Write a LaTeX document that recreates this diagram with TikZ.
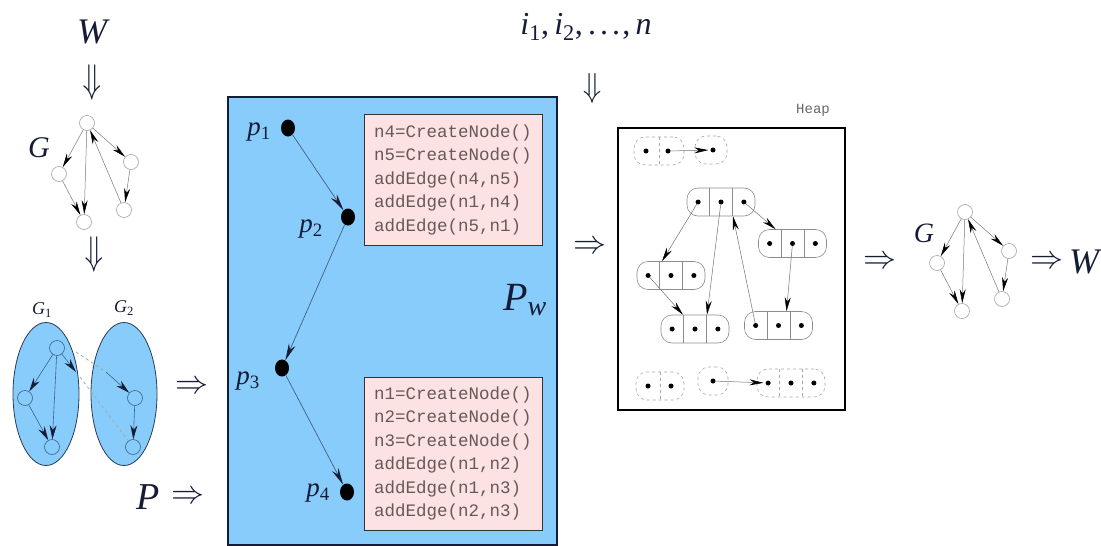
\documentclass[tikz,border=0pt]{standalone}
\usepackage{fontspec}
\usepackage{graphicx}
\setmainfont{Liberation Serif}
\setmonofont{Liberation Mono}
\usetikzlibrary{arrows.meta,shapes.geometric,calc}

\definecolor{boxblue}{RGB}{135,204,250}
\definecolor{codepink}{RGB}{252,226,226}
\definecolor{codetext}{RGB}{105,88,88}
\definecolor{ink}{RGB}{22,28,55}
\definecolor{gnode}{RGB}{165,165,165}
\definecolor{gline}{RGB}{120,120,120}
\definecolor{bvline}{RGB}{60,100,140}
\definecolor{ellline}{RGB}{40,60,90}
\definecolor{pline}{RGB}{70,95,130}

\newcommand{\codefont}{\fontsize{17.5}{23.5}\selectfont\ttfamily}
\newcommand{\rtarrow}{\scalebox{3.3}{$\Rightarrow$}}
\newcommand{\dnarrow}[1]{\rotatebox{-90}{\scalebox{#1}[3.0]{$\Rightarrow$}}}
\newcommand{\fsz}[1]{\fontsize{#1}{#1}\selectfont}

\newcommand{\heaprec}[3]{%
  \node[hrec] (#1) at (#2,#3) {};
  \draw[hdiv] ($(#1.north west)!1/3!(#1.north east)$) -- ($(#1.south west)!1/3!(#1.south east)$);
  \draw[hdiv] ($(#1.north west)!2/3!(#1.north east)$) -- ($(#1.south west)!2/3!(#1.south east)$);
  \node[hdot] (#1a) at ($(#1.west)!1/6!(#1.east)$) {};
  \node[hdot] (#1b) at (#1.center) {};
  \node[hdot] (#1c) at ($(#1.west)!5/6!(#1.east)$) {};
}

\newcommand{\smallgraph}[3]{%
  \node[gv] (#1t) at (87+#2,123+#3) {};
  \node[gv] (#1l) at (59+#2,174+#3) {};
  \node[gv] (#1r) at (131+#2,162+#3) {};
  \node[gv] (#1bl) at (84+#2,222+#3) {};
  \node[gv] (#1br) at (124+#2,210+#3) {};
  \draw[gedge] (#1t) -- (#1l);
  \draw[gedge] (#1t) -- (#1bl);
  \draw[gedge] (#1l) -- (#1bl);
  \draw[gedge] (#1t) -- (#1r);
  \draw[gedge] (#1r) -- (#1br);
  \draw[gedge] (#1br) -- (#1t);
}

\begin{document}
\begin{tikzpicture}[x=1pt,y=-1pt,
  gv/.style={circle,draw=gnode,fill=white,minimum size=15pt,inner sep=0pt,line width=0.6pt},
  gedge/.style={draw=gline,line width=0.5pt,-{Stealth[color=black,length=14pt,width=6pt]}},
  bv/.style={circle,draw=bvline,fill=boxblue,minimum size=15pt,inner sep=0pt,line width=0.6pt},
  bedge/.style={draw=bvline,line width=0.6pt,-{Stealth[color=ink,length=14pt,width=7pt]}},
  bdash/.style={draw=black!35,line width=0.7pt,dashed},
  lbl/.style={text=ink,inner sep=0pt},
  pdot/.style={ellipse,fill=black,minimum width=14pt,minimum height=17pt,inner sep=0pt},
  pedge/.style={draw=pline,line width=0.7pt,-{Stealth[color=ink,length=17pt,width=7pt]}},
  codebox/.style={draw=black!80,line width=1pt,fill=codepink,text=codetext,text width=158pt,align=left,inner sep=0pt,font=\codefont},
  hrec/.style={draw=black!45,rounded corners=11pt,minimum width=68pt,minimum height=28pt,inner sep=0pt,line width=0.6pt},
  hdrec/.style={hrec,dashed,draw=black!35},
  hdiv/.style={draw=black!45,line width=0.6pt},
  hddiv/.style={draw=black!35,line width=0.6pt,dashed},
  hdot/.style={circle,fill=black,minimum size=5pt,inner sep=0pt},
  hedge/.style={draw=black!55,line width=0.5pt,-{Stealth[color=black,length=14pt,width=6pt]}},
  sym/.style={inner sep=0pt,text=ink}
]
\useasboundingbox[fill=white] (0,0) rectangle (1101,546);

% ---------- left column ----------
\node[lbl,font=\fsz{36}\itshape] (W1) at (92,32) {W};
\node[sym] (D1) at (90,82) {\dnarrow{4.0}};
\node[lbl,font=\fsz{30}\itshape] (GL) at (39,148) {G};
\smallgraph{L}{0}{0}
\node[sym] (D2) at (92,254) {\dnarrow{4.0}};

\node[lbl,font=\fsz{18}] (G1L) at (42,310) {\textit{G}\textsubscript{1}};
\node[lbl,font=\fsz{18}] (G2L) at (124,308) {\textit{G}\textsubscript{2}};
\node[ellipse,draw=ellline,fill=boxblue,minimum width=66pt,minimum height=143pt,inner sep=0pt,line width=0.8pt] (E1) at (46,394) {};
\node[ellipse,draw=ellline,fill=boxblue,minimum width=66pt,minimum height=143pt,inner sep=0pt,line width=0.8pt] (E2) at (124,394) {};
\node[bv] (g1t) at (57,348) {};
\node[bv] (g1l) at (25,398) {};
\node[bv] (g1b) at (52,447) {};
\node[bv] (g2t) at (135,398) {};
\node[bv] (g2b) at (133,447) {};
\draw[bedge] (g1t) -- (g1l);
\draw[bedge] (g1t) -- (g1b);
\draw[bedge] (g1l) -- (g1b);
\draw[bedge] (g2t) -- (g2b);
\coordinate (c1) at (76,372);
\draw[bedge] (g1t) -- (c1);
\coordinate (d1) at (76,352);
\coordinate (d2) at (106,372);
\draw[bdash] (d1) -- (d2);
\draw[bedge] (d2) -- (g2t);
\coordinate (d3) at (80,377);
\draw[bdash] (d3) -- (g2b);

\node[sym] (A1) at (192,387) {\rtarrow};
\node[lbl,font=\fsz{38}\itshape] (PL) at (148,497) {P};
\node[sym] (A2) at (188,497) {\rtarrow};

% ---------- program box ----------
\node[draw=ink,line width=1.2pt,fill=boxblue,minimum width=329pt,minimum height=448pt,inner sep=0pt] (PW) at (392.5,321) {};
\node[codebox,minimum width=178pt,minimum height=131pt] (C1) at (453,179.5) {n4=CreateNode()\\n5=CreateNode()\\addEdge(n4,n5)\\addEdge(n1,n4)\\addEdge(n5,n1)};
\node[codebox,minimum width=178pt,minimum height=153pt] (C2) at (453,453.5) {n1=CreateNode()\\n2=CreateNode()\\n3=CreateNode()\\addEdge(n1,n2)\\addEdge(n1,n3)\\addEdge(n2,n3)};

\node[pdot] (p1) at (288,128) {};
\node[pdot] (p2) at (348,217) {};
\node[pdot] (p3) at (282,368) {};
\node[pdot] (p4) at (347,492) {};
\draw[pedge] (p1) -- (p2);
\draw[pedge] (p2) -- (p3);
\draw[pedge] (p3) -- (p4);
\node[lbl,font=\fsz{27}] (p1l) at (259,132) {\textit{p}\textsubscript{1}};
\node[lbl,font=\fsz{27}] (p2l) at (311,229) {\textit{p}\textsubscript{2}};
\node[lbl,font=\fsz{27}] (p3l) at (248,381) {\textit{p}\textsubscript{3}};
\node[lbl,font=\fsz{27}] (p4l) at (318,493) {\textit{p}\textsubscript{4}};
\node[lbl,font=\fsz{40}] (PwL) at (525,300) {\textit{P}\textsubscript{\textit{w}}};

% ---------- inputs ----------
\node[lbl,font=\fsz{32}] (IN) at (586,27) {\textit{i}\textsubscript{1},\,\textit{i}\textsubscript{2},\,.\kern4pt.\kern4pt.\kern2pt,\,\textit{n}};
\node[sym] (D3) at (590,88) {\dnarrow{3.4}};
\node[sym] (A3) at (590,247) {\rtarrow};

% ---------- heap ----------
\node[draw=black,line width=1.5pt,minimum width=227pt,minimum height=282pt,inner sep=0pt] (HB) at (731.5,269) {};
\node[inner sep=0pt,text=black!60,font=\fsz{14}\ttfamily] (HL) at (813,110) {Heap};

\node[hdrec,minimum width=50pt] (T1) at (659,151) {};
\draw[hddiv] (T1.north) -- (T1.south);
\node[hdot] (T1a) at (646,151) {};
\node[hdot] (T1b) at (668,151) {};
\node[hdrec,minimum width=32pt] (T2) at (711,150) {};
\node[hdot] (T2a) at (713,150) {};
\draw[hedge,shorten >=2pt] (T1b) -- (T2a);

\heaprec{R1}{721}{202}
\heaprec{R2}{792.5}{243.5}
\heaprec{R3}{671}{275.5}
\heaprec{R4}{695}{329}
\heaprec{R5}{778.5}{325.5}
\draw[hedge] (R1a) -- ($(R3.north)+(-9,0)$);
\draw[hedge] (R1b) -- ($(R4.north)+(12,0)$);
\draw[hedge] (R1c) -- ($(R2.north)+(-17,0)$);
\draw[hedge] (R5a) -- ($(R1.south)+(12,0)$);
\draw[hedge] (R3a) -- ($(R4.north)+(-12,0)$);
\draw[hedge] (R2b) -- ($(R5.north)+(8,0)$);

\node[hdrec,minimum width=48pt] (B1) at (660,386) {};
\draw[hddiv] (B1.north) -- (B1.south);
\node[hdot] (B1a) at (648,386) {};
\node[hdot] (B1b) at (671,386) {};
\node[hdrec,minimum width=30pt] (B2) at (713,381) {};
\node[hdot] (B2a) at (713,381) {};
\node[hdrec] (B3) at (791,383) {};
\draw[hddiv] ($(B3.north west)!1/3!(B3.north east)$) -- ($(B3.south west)!1/3!(B3.south east)$);
\draw[hddiv] ($(B3.north west)!2/3!(B3.north east)$) -- ($(B3.south west)!2/3!(B3.south east)$);
\node[hdot] (B3a) at ($(B3.west)!1/6!(B3.east)$) {};
\node[hdot] (B3b) at (B3.center) {};
\node[hdot] (B3c) at ($(B3.west)!5/6!(B3.east)$) {};
\draw[hedge,shorten >=2pt] (B2a) -- (B3a);

% ---------- right ----------
\node[sym] (A4) at (880,262) {\rtarrow};
\node[lbl,font=\fsz{28}\itshape] (GR) at (924,233) {G};
\smallgraph{R}{878}{89}
\node[sym] (A5) at (1047,262) {\rtarrow};
\node[lbl,font=\fsz{36}\itshape] (W2) at (1084,262) {W};
\end{tikzpicture}
\end{document}
